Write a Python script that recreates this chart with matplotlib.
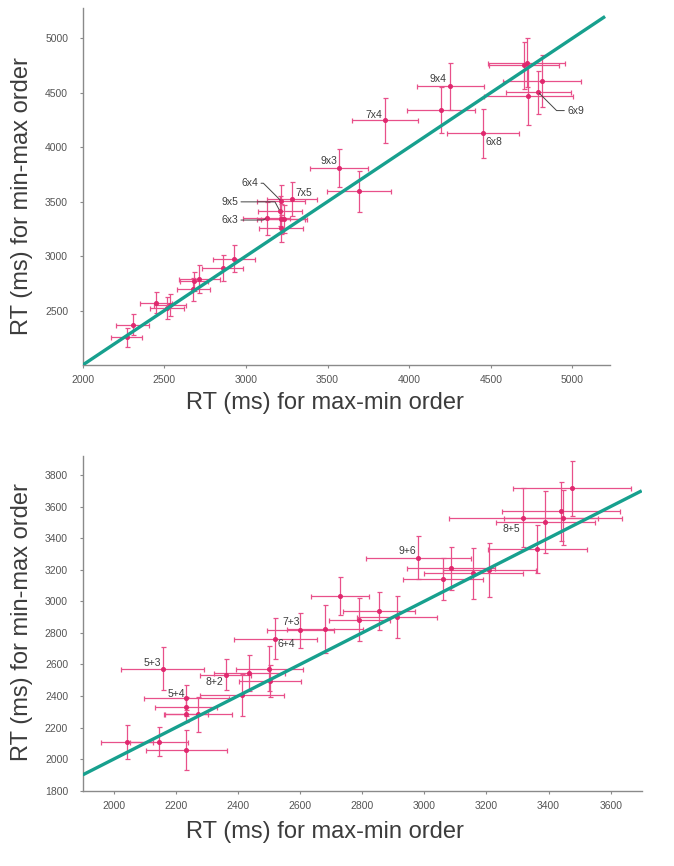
import matplotlib
matplotlib.use("Agg")
import matplotlib.pyplot as plt

plt.rcParams['font.family'] = ['Liberation Sans', 'DejaVu Sans']

# ---- top panel: multiplication problems ----
mul_x = [2269, 2306, 2449, 2514, 2534, 2677, 2681, 2714, 2857, 2928,
         3126, 3215, 3207, 3283, 3215, 3235, 3215,
         3570, 3693, 3852, 4252, 4195, 4452,
         4703, 4719, 4813, 4730, 4791]
mul_y = [2255, 2371, 2572, 2524, 2548, 2694, 2767, 2792, 2890, 2975,
         3349, 3507, 3416, 3522, 3340, 3340, 3255,
         3809, 3596, 4248, 4559, 4339, 4126,
         4751, 4773, 4605, 4474, 4504]
mul_xerr = [94, 99, 100, 104, 100, 100, 86, 127, 124, 127,
            145, 148, 135, 155, 145, 140, 137,
            179, 194, 204, 207, 209, 223,
            212, 234, 239, 273, 198]
mul_yerr = [89, 96, 95, 102, 100, 102, 90, 130, 122, 125,
            152, 150, 140, 155, 140, 130, 122,
            178, 187, 206, 216, 210, 225,
            213, 225, 239, 270, 200]
mul_diag = [2000, 5200]

# labelled problems: (text, index into mul arrays, text x, text y)
mul_names = ['9x4', '7x4', '6x8', '9x3', '7x5']
mul_name_x = [4179, 3785, 4521, 3507, 3355]
mul_name_y = [4626, 4300, 4047, 3873, 3575]

# labels with leader lines
mul_lead = ['6x4', '9x5', '6x3', '6x9']
mul_lead_idx = [11, 12, 10, 27]
mul_lead_x = [3024, 2901, 2901, 5019]
mul_lead_y = [3669, 3498, 3331, 4336]
mul_lead_conn = ["angle,angleA=0,angleB=135,rad=0",
                 "angle,angleA=0,angleB=-62,rad=0",
                 "angle,angleA=0,angleB=30,rad=0",
                 "angle,angleA=0,angleB=-45,rad=0"]

# ---- bottom panel: addition problems ----
add_x = [2043, 2146, 2234, 2157, 2234, 2234, 2234, 2272, 2360, 2413,
         2437, 2501, 2504, 2520, 2600, 2681, 2729, 2790, 2854, 2912,
         2980, 3060, 3087, 3158, 3209, 3364, 3319, 3390, 3441, 3447, 3476]
add_y = [2107, 2111, 2060, 2573, 2389, 2333, 2283, 2283, 2535, 2405,
         2547, 2573, 2494, 2763, 2816, 2824, 3034, 2884, 2941, 2900,
         3277, 3140, 3208, 3176, 3197, 3332, 3529, 3504, 3569, 3529, 3716]
add_xerr = [83, 94, 131, 134, 136, 100, 70, 109, 81, 134,
            113, 107, 100, 134, 108, 123, 93, 98, 116, 130,
            169, 128, 142, 160, 150, 159, 241, 159, 190, 190, 189]
add_yerr = [108, 90, 127, 135, 80, 60, 50, 110, 98, 135,
            113, 143, 100, 130, 110, 150, 122, 134, 120, 131,
            138, 132, 138, 159, 169, 153, 187, 197, 186, 175, 175]
add_diag = [1900, 3700]

add_names = ['5+3', '5+4', '8+2', '6+4', '7+3', '9+6', '8+5']
add_name_x = [2125, 2200, 2325, 2554, 2571, 2944, 3281]
add_name_y = [2611, 2414, 2488, 2729, 2869, 3319, 3455]

pink = '#e0286e'
bar_pink = '#e8508a'
teal = '#17a08e'
grey = '#8a8a8a'
text_col = '#3c3c3c'

fig = plt.figure(figsize=(6.74, 8.66), dpi=100)
ax1 = fig.add_axes([0.1227, 0.5785, 0.7823, 0.4119])
ax2 = fig.add_axes([0.1227, 0.0870, 0.8294, 0.3864])


def style_axes(ax):
    for side in ['top', 'right']:
        ax.spines[side].set_visible(False)
    for side in ['left', 'bottom']:
        ax.spines[side].set_color(grey)
        ax.spines[side].set_linewidth(1.0)
    ax.tick_params(axis='both', colors=grey, labelcolor='#555555',
                   labelsize=7.5, length=2.5, width=0.8)
    ax.tick_params(axis='y', pad=8)
    ax.tick_params(axis='x', pad=5)


def draw_panel(ax, xs, ys, xe, ye, diag):
    ax.errorbar(xs, ys, xerr=xe, yerr=ye, fmt='o', ms=2.6, color=pink,
                ecolor=bar_pink, elinewidth=0.9, capsize=1.8, capthick=0.9,
                zorder=2)
    ax.plot(diag, diag, color=teal, lw=2.4, zorder=3, solid_capstyle='butt')


# top panel
draw_panel(ax1, mul_x, mul_y, mul_xerr, mul_yerr, mul_diag)
style_axes(ax1)
ax1.set_xlim(2000, 5230)
ax1.set_ylim(2000, 5275)
ax1.set_xticks([2000, 2500, 3000, 3500, 4000, 4500, 5000])
ax1.set_yticks([2500, 3000, 3500, 4000, 4500, 5000])
ax1.set_xlabel('RT (ms) for max-min order', fontsize=17, color=text_col)
ax1.set_ylabel('RT (ms) for min-max order', fontsize=17, color=text_col)
ax1.xaxis.set_label_coords(0.46, -0.076)
ax1.yaxis.set_label_coords(-0.094, 0.475)

for name, tx, ty in zip(mul_names, mul_name_x, mul_name_y):
    ax1.text(tx, ty, name, fontsize=7.5, color=text_col,
             ha='center', va='center')
for name, i, tx, ty, cs in zip(mul_lead, mul_lead_idx, mul_lead_x,
                               mul_lead_y, mul_lead_conn):
    ax1.annotate(name, xy=(mul_x[i], mul_y[i]), xytext=(tx, ty),
                 fontsize=7.5, color=text_col, ha='center', va='center',
                 arrowprops=dict(arrowstyle='-', color='#444444', lw=0.7,
                                 connectionstyle=cs, shrinkA=0, shrinkB=1))

# bottom panel
draw_panel(ax2, add_x, add_y, add_xerr, add_yerr, add_diag)
style_axes(ax2)
ax2.set_xlim(1900, 3700)
ax2.set_ylim(1800, 3920)
ax2.set_xticks(range(2000, 3601, 200))
ax2.set_yticks(range(1800, 3801, 200))
ax2.set_xlabel('RT (ms) for max-min order', fontsize=17, color=text_col)
ax2.set_ylabel('RT (ms) for min-max order', fontsize=17, color=text_col)
ax2.xaxis.set_label_coords(0.433, -0.0905)
ax2.yaxis.set_label_coords(-0.089, 0.505)

for name, tx, ty in zip(add_names, add_name_x, add_name_y):
    ax2.text(tx, ty, name, fontsize=7.5, color=text_col,
             ha='center', va='center')

fig.savefig('out.png', dpi=100)
